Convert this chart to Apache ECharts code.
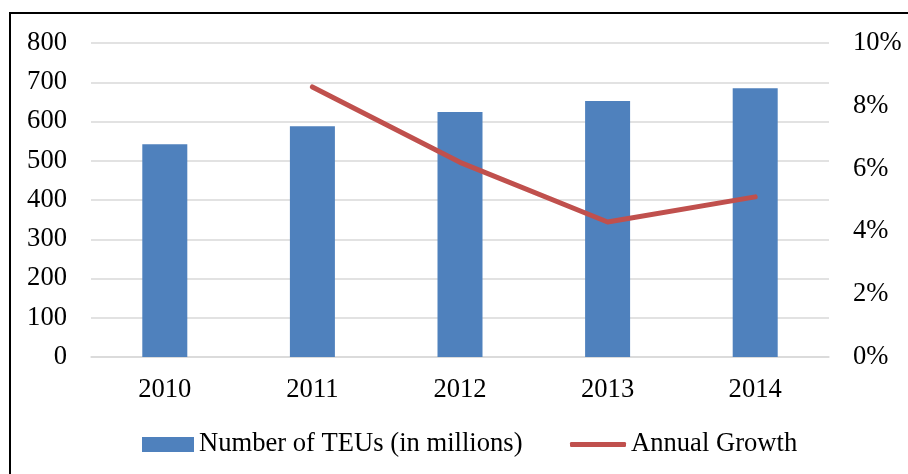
<!DOCTYPE html>
<html>
<head>
<meta charset="utf-8">
<script src="https://cdn.jsdelivr.net/npm/echarts@6/dist/echarts.min.js"></script>
<style>
  html, body { margin: 0; padding: 0; background: #fff; }
  #chart { width: 908px; height: 474px; }
</style>
</head>
<body>
<div id="chart"></div>
<script>
// Container throughput and its year-on-year growth
const years = ['2010', '2011', '2012', '2013', '2014'];
const teus = [542, 588, 624, 652, 685];          // millions of TEUs
const growth = [null, 8.6, 6.2, 4.3, 5.1];       // annual growth, %
const leftTicks = { min: 0, max: 800, interval: 100 };
const rightTicks = { min: 0, max: 10, interval: 2 };

const FONT = 'Liberation Serif';
const labelStyle = { fontFamily: FONT, fontSize: 26.6, color: '#000' };

const chart = echarts.init(document.getElementById('chart'));
chart.setOption({
  backgroundColor: '#fff',
  animation: false,
  graphic: [{
    type: 'rect',
    shape: { x: 10, y: 13, width: 920, height: 480 },
    style: { fill: 'none', stroke: '#000', lineWidth: 2 },
    silent: true
  }],
  grid: { left: 91, right: 79, top: 43, bottom: 117 },
  legend: [{
    data: ['Number of TEUs (in millions)'],
    left: 142, top: 431, padding: 0,
    itemWidth: 52, itemHeight: 15, icon: 'rect',
    textStyle: labelStyle
  }, {
    data: ['Annual Growth'],
    left: 570, top: 431, padding: 0,
    itemWidth: 56, itemHeight: 5, icon: 'roundRect',
    textStyle: labelStyle
  }],
  xAxis: {
    type: 'category',
    data: years,
    axisLine: { show: true, lineStyle: { color: '#D9D9D9', width: 1.5 } },
    axisTick: { show: false },
    axisLabel: Object.assign({ margin: 20 }, labelStyle)
  },
  yAxis: [{
    type: 'value',
    min: leftTicks.min, max: leftTicks.max, interval: leftTicks.interval,
    axisLine: { show: false },
    axisTick: { show: false },
    axisLabel: Object.assign({ margin: 24 }, labelStyle),
    splitLine: { lineStyle: { color: '#D9D9D9', width: 1.5 } }
  }, {
    type: 'value',
    min: rightTicks.min, max: rightTicks.max, interval: rightTicks.interval,
    axisLine: { show: false },
    axisTick: { show: false },
    axisLabel: Object.assign({ margin: 24, formatter: '{value}%' }, labelStyle),
    splitLine: { show: false }
  }],
  series: [{
    name: 'Number of TEUs (in millions)',
    type: 'bar',
    data: teus,
    barWidth: 45,
    itemStyle: { color: '#4F81BD' }
  }, {
    name: 'Annual Growth',
    type: 'line',
    yAxisIndex: 1,
    data: growth,
    symbol: 'none',
    lineStyle: { color: '#C0504D', width: 5, cap: 'round', join: 'round' },
    itemStyle: { color: '#C0504D' }
  }]
});
</script>
</body>
</html>
